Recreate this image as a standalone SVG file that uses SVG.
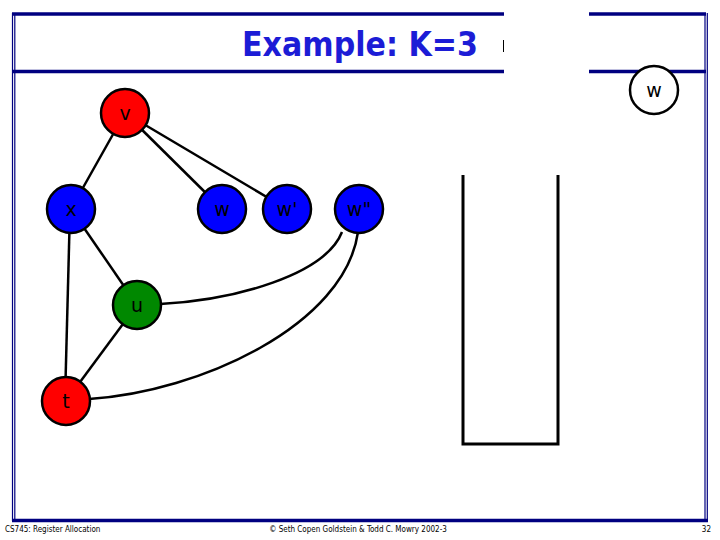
<svg xmlns="http://www.w3.org/2000/svg" width="720" height="540" viewBox="0 0 720 540">
<style>
.frame{stroke:#000080;fill:none}
.node circle{stroke:#000;stroke-width:2.5}
.lbl{font-family:"DejaVu Sans",sans-serif;font-size:19px;fill:#000;text-anchor:middle}
.edge{stroke:#000;stroke-width:2.5;fill:none}
.foot{font-family:"DejaVu Sans Condensed","DejaVu Sans",sans-serif;font-size:8px;fill:#000}
</style>
<rect width="720" height="540" fill="#fff"/>
<g id="frame">
<line class="frame" x1="12.5" y1="13" x2="12.5" y2="521" stroke-width="1.2"/>
<line class="frame" x1="14.8" y1="13" x2="14.8" y2="521" stroke-width="1.2"/>
<line class="frame" x1="705" y1="13" x2="705" y2="521" stroke-width="1.2"/>
<line class="frame" x1="707.3" y1="13" x2="707.3" y2="521" stroke-width="1.2"/>
<line class="frame" x1="12" y1="14" x2="504" y2="14" stroke-width="3.5"/>
<line class="frame" x1="589" y1="14" x2="706" y2="14" stroke-width="3.5"/>
<line class="frame" x1="12" y1="71.5" x2="504" y2="71.5" stroke-width="3.5"/>
<line class="frame" x1="589" y1="71.5" x2="706" y2="71.5" stroke-width="3.5"/>
<line class="frame" x1="12" y1="520.5" x2="708" y2="520.5" stroke-width="3.5"/>
<line x1="503.5" y1="40" x2="503.5" y2="52" stroke="#000" stroke-width="1"/>
</g>
<text id="title" x="360" y="56" font-family="DejaVu Sans, sans-serif" font-weight="bold" font-size="33" fill="#1c1cd6" text-anchor="middle" textLength="236" lengthAdjust="spacingAndGlyphs">Example: K=3</text>
<g id="connectors">
<line class="edge" x1="125" y1="113" x2="71" y2="209"/>
<line class="edge" x1="125" y1="113" x2="222" y2="209"/>
<line class="edge" x1="125" y1="113" x2="287" y2="209"/>
<line class="edge" x1="70" y1="209" x2="65" y2="401"/>
<line class="edge" x1="71" y1="209" x2="137" y2="305"/>
<line class="edge" x1="137" y1="305" x2="66" y2="401"/>
<path class="edge" d="M160,304 C235,300 325,275 342,232"/>
<path class="edge" d="M89,399 C200,392 345,325 358,232"/>
</g>
<g id="node-v" class="node"><circle cx="125" cy="113" r="24" fill="#ff0000"/><text class="lbl" x="125" y="120">v</text></g>
<g id="node-x" class="node"><circle cx="71" cy="209" r="24" fill="#0000ff"/><text class="lbl" x="71" y="216">x</text></g>
<g id="node-w" class="node"><circle cx="222" cy="209" r="24" fill="#0000ff"/><text class="lbl" x="222" y="216">w</text></g>
<g id="node-w1" class="node"><circle cx="287" cy="209" r="24" fill="#0000ff"/><text class="lbl" x="287" y="216">w'</text></g>
<g id="node-w2" class="node"><circle cx="359" cy="209" r="24" fill="#0000ff"/><text class="lbl" x="359" y="216">w"</text></g>
<g id="node-u" class="node"><circle cx="137" cy="305" r="24" fill="#008800"/><text class="lbl" x="137" y="312">u</text></g>
<g id="node-t" class="node"><circle cx="66" cy="401" r="24" fill="#ff0000"/><text class="lbl" x="66" y="408">t</text></g>
<g id="node-wstack" class="node"><circle cx="654" cy="90" r="24" fill="#fff"/><text class="lbl" x="654" y="97">w</text></g>
<g id="stack"><path d="M463,175 V444 H558 V175" stroke="#000" stroke-width="3" fill="none"/></g>
<g id="footer">
<text class="foot" x="5" y="532">CS745: Register Allocation</text>
<text class="foot" x="358" y="532" text-anchor="middle">© Seth Copen Goldstein &amp; Todd C. Mowry 2002-3</text>
<text class="foot" x="711" y="532" text-anchor="end">32</text>
</g>
</svg>
